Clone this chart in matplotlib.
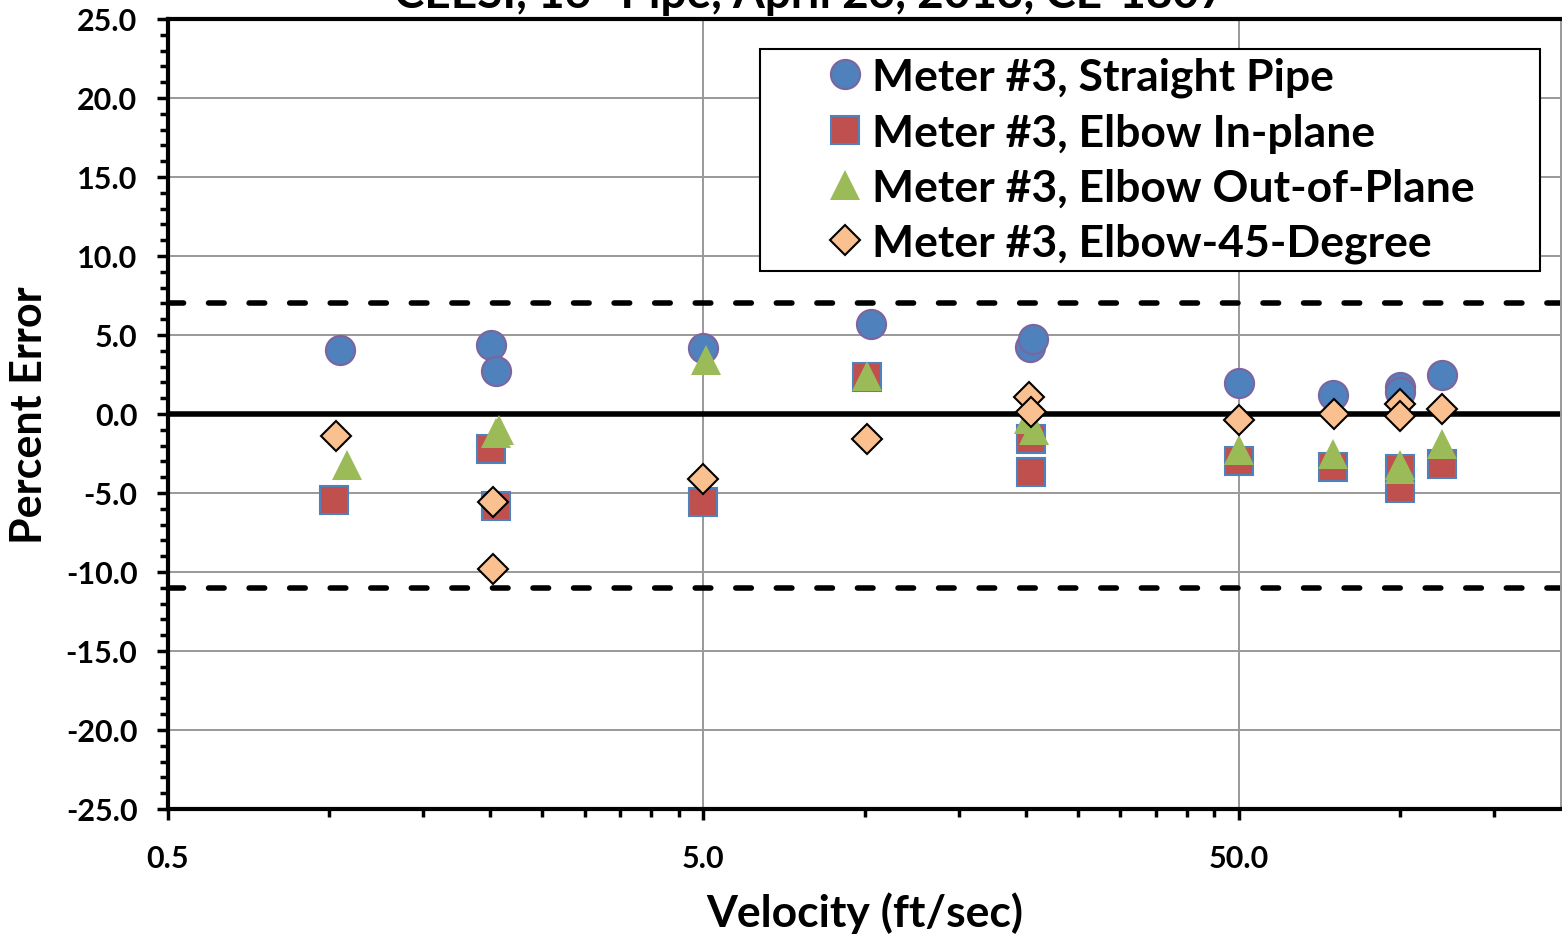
import matplotlib
matplotlib.use("Agg")
import matplotlib.pyplot as plt
from matplotlib.ticker import FixedLocator, MultipleLocator, NullFormatter, FuncFormatter
from matplotlib.patches import Rectangle

plt.rcParams['font.family'] = ['Lato', 'DejaVu Sans']
plt.rcParams['font.weight'] = 'bold'

# ---- data ----
straight_v = [1.05, 2.01, 2.05, 5.0, 10.3, 20.4, 20.6, 50.0, 75.0, 100.0, 100.0, 120.0]
straight_e = [4.05, 4.35, 2.7, 4.2, 5.7, 4.25, 4.75, 1.95, 1.2, 1.7, 1.4, 2.45]

inplane_v = [1.02, 2.01, 2.05, 5.0, 10.1, 20.5, 20.5, 50.0, 75.0, 100.0, 100.0, 120.0]
inplane_e = [-5.45, -2.2, -5.8, -5.6, 2.35, -1.6, -3.7, -3.0, -3.35, -3.5, -4.7, -3.15]

outplane_v = [1.08, 2.05, 2.08, 5.05, 10.1, 20.3, 20.7, 50.0, 75.0, 100.0, 100.0, 120.0]
outplane_e = [-3.2, -1.2, -1.0, 3.4, 2.4, -0.3, -1.0, -2.3, -2.5, -3.2, -3.5, -1.9]

deg45_v = [1.03, 2.02, 2.02, 5.0, 10.1, 20.3, 20.5, 50.0, 75.2, 100.0, 100.0, 120.0]
deg45_e = [-1.4, -5.6, -9.8, -4.1, -1.6, 1.1, 0.1, -0.4, 0.0, 0.65, -0.1, 0.3]

upper_limit = 7.0
lower_limit = -11.0

x_major = [0.5, 5.0, 50.0]
x_minor = [1.0, 1.5, 2.0, 2.5, 3.0, 3.5, 4.0, 4.5,
           10, 15, 20, 25, 30, 35, 40, 45,
           100, 150]

labels = ["Meter #3, Straight Pipe", "Meter #3, Elbow In-plane",
          "Meter #3, Elbow Out-of-Plane", "Meter #3, Elbow-45-Degree"]
title = "CEESI, 16\" Pipe, April 23, 2013, CE-1807"

W, H = 1562, 937

# ---- figure ----
fig = plt.figure(figsize=(W/100, H/100), dpi=100)
ax = fig.add_axes([168/W, 1-810/H, (1561-168)/W, (810-20)/H])

ax.set_xscale('log')
ax.set_xlim(0.5, 200)
ax.set_ylim(-25, 25)

ax.xaxis.set_major_locator(FixedLocator(x_major))
ax.xaxis.set_minor_locator(FixedLocator(x_minor))
ax.xaxis.set_major_formatter(FuncFormatter(lambda v, p: f"{v:.1f}"))
ax.xaxis.set_minor_formatter(NullFormatter())
ax.yaxis.set_major_locator(MultipleLocator(5))
ax.yaxis.set_minor_locator(MultipleLocator(1))
ax.yaxis.set_major_formatter(FuncFormatter(lambda v, p: f"{v:.1f}"))

ax.grid(True, which='major', color='#999999', linewidth=1.4, zorder=0)
ax.set_axisbelow(True)

for s in ['left', 'bottom', 'top']:
    ax.spines[s].set_linewidth(3)
    ax.spines[s].set_color('black')
ax.spines['right'].set_linewidth(1.4)
ax.spines['right'].set_color('#999999')

ax.tick_params(axis='both', which='major', direction='out', length=8, width=2.5,
               labelsize=22)
ax.tick_params(axis='both', which='minor', direction='out', length=6, width=2.5)
ax.tick_params(axis='y', which='major', pad=14)
ax.tick_params(axis='x', which='major', pad=17)
for t in ax.get_xticklabels() + ax.get_yticklabels():
    t.set_fontweight('bold')

ax.axhline(0, color='black', linewidth=4, zorder=1)
ax.axhline(upper_limit, color='black', linewidth=4, linestyle=(0, (2.8, 4.5)),
           dash_capstyle='round', zorder=1)
ax.axhline(lower_limit, color='black', linewidth=4, linestyle=(0, (2.8, 4.5)),
           dash_capstyle='round', zorder=1)

ax.plot(straight_v, straight_e, 'o', ms=21, mfc='#4F81BD', mec='#7E649E', mew=1.5,
        label=labels[0], zorder=3)
ax.plot(inplane_v, inplane_e, 's', ms=20, mfc='#C0504D', mec='#4F81BD', mew=1.5,
        label=labels[1], zorder=4)
ax.plot(outplane_v, outplane_e, '^', ms=21, mfc='#9BBB59', mec='#9BBB59', mew=0,
        label=labels[2], zorder=5)
ax.plot(deg45_v, deg45_e, 'D', ms=15, mfc='#FAC090', mec='black', mew=1.5,
        label=labels[3], zorder=6)

# legend frame (drawn separately to match the wide left padding)
fig.patches.append(Rectangle((760/W, 1-272/H), (1540-760)/W, (272-50)/H,
                             transform=fig.transFigure, facecolor='white',
                             edgecolor='black', linewidth=1.5, zorder=7))
leg = fig.legend(loc='upper left', bbox_to_anchor=(823/W, 1-58/H),
                 fontsize=32, frameon=False, borderpad=0, handlelength=1.0,
                 handletextpad=0.1, labelspacing=0.34, markerscale=1.0,
                 borderaxespad=0)
leg.set_zorder(8)
for t in leg.get_texts():
    t.set_fontweight('bold')

ax.set_xlabel("Velocity (ft/sec)", fontsize=32, fontweight='bold', labelpad=14)
ax.set_ylabel("Percent Error", fontsize=31, fontweight='bold', labelpad=12)

fig.text(810/W, 1-8/H, title, ha='center', va='baseline', fontsize=33,
         fontweight='bold')

fig.savefig("out.png", dpi=100)
